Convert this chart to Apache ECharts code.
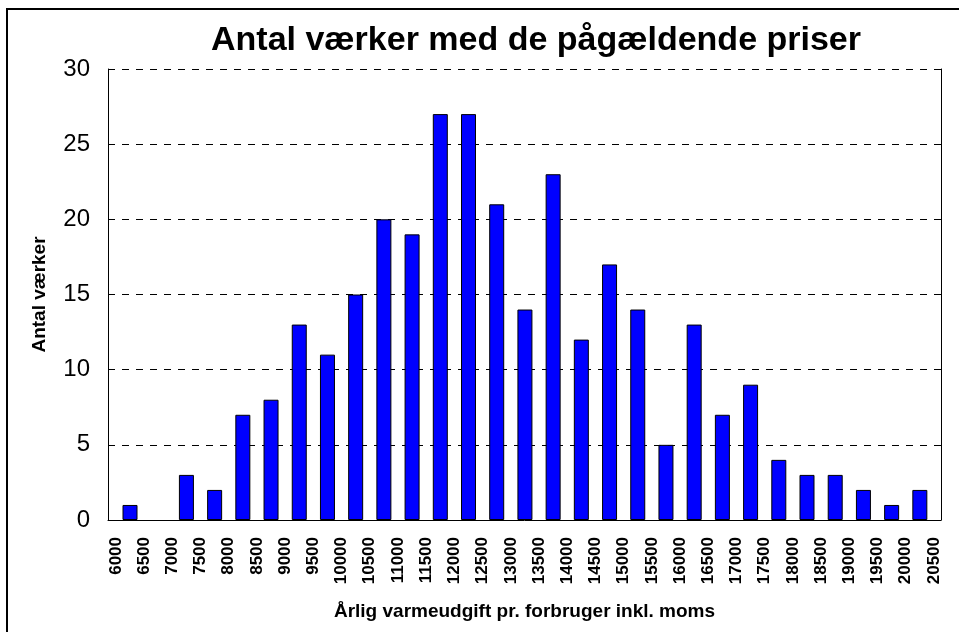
<!DOCTYPE html>
<html>
<head>
<meta charset="utf-8">
<script src="https://cdn.jsdelivr.net/npm/echarts@6/dist/echarts.min.js"></script>
<style>
  html, body { margin: 0; padding: 0; background: #fff; }
  #chart { width: 959px; height: 632px; }
</style>
</head>
<body>
<div id="chart"></div>
<script>
// bins (lower edge of each price band) and number of plants in each
const binStarts = [6000, 6500, 7000, 7500, 8000, 8500, 9000, 9500, 10000, 10500,
  11000, 11500, 12000, 12500, 13000, 13500, 14000, 14500, 15000, 15500,
  16000, 16500, 17000, 17500, 18000, 18500, 19000, 19500, 20000];
const counts = [1, 0, 3, 2, 7, 8, 13, 11, 15, 20,
  19, 27, 27, 21, 14, 23, 12, 17, 14, 5,
  13, 7, 9, 4, 3, 3, 2, 1, 2];
const tickLabels = [6000, 6500, 7000, 7500, 8000, 8500, 9000, 9500, 10000, 10500,
  11000, 11500, 12000, 12500, 13000, 13500, 14000, 14500, 15000, 15500,
  16000, 16500, 17000, 17500, 18000, 18500, 19000, 19500, 20000, 20500];
const binWidth = 500;

const font = "'Liberation Sans', Arial, sans-serif";

// bar sits in the middle of its band; empty bands draw nothing
const barData = binStarts
  .map((b, i) => [b + binWidth / 2, counts[i]])
  .filter((d) => d[1] > 0);

const chart = echarts.init(document.getElementById("chart"));
const option = {
  animation: false,
  backgroundColor: "#fff",
  title: {
    text: "Antal værker med de pågældende priser",
    left: 531,
    top: 19,
    textAlign: "center",
    textStyle: { fontFamily: font, fontSize: 34, fontWeight: "bold", color: "#000" },
  },
  grid: { left: 108, right: 18, top: 69, bottom: 112 },
  xAxis: {
    type: "value",
    min: 5860,
    max: 20625,
    name: "Årlig varmeudgift pr. forbruger inkl. moms",
    nameLocation: "middle",
    nameGap: 82,
    nameTextStyle: { fontFamily: font, fontSize: 19, fontWeight: "bold", color: "#000" },
    axisLine: { show: true, lineStyle: { color: "#000", width: 1 } },
    axisTick: { show: false },
    splitLine: { show: false },
    axisLabel: {
      customValues: tickLabels,
      formatter: (v) => String(v),
      rotate: 90,
      margin: 17,
      fontFamily: font,
      fontSize: 17,
      fontWeight: "bold",
      color: "#000",
    },
  },
  yAxis: [
    {
      type: "value",
      min: 0,
      max: 30,
      interval: 5,
      name: "Antal værker",
      nameLocation: "middle",
      nameGap: 59,
      nameTextStyle: { fontFamily: font, fontSize: 19, fontWeight: "bold", color: "#000" },
      axisLine: { show: true, lineStyle: { color: "#000", width: 1 } },
      axisTick: { show: false },
      axisLabel: { fontFamily: font, fontSize: 24, color: "#000", margin: 18 },
      splitLine: { show: true, lineStyle: { color: "#000", type: [7, 7], width: 1 } },
    },
    {
      type: "value",
      min: 0,
      max: 30,
      position: "right",
      axisLine: { show: true, lineStyle: { color: "#000", width: 1 } },
      axisTick: { show: false },
      axisLabel: { show: false },
      splitLine: { show: false },
    },
  ],
  series: [
    {
      type: "bar",
      data: barData,
      barWidth: 15,
      itemStyle: { color: "#0000ff", borderColor: "#000", borderWidth: 1 },
    },
  ],
  graphic: [
    {
      type: "rect",
      shape: { x: 7, y: 9, width: 1000, height: 700 },
      style: { fill: "none", stroke: "#000", lineWidth: 2 },
      silent: true,
    },
  ],
};
chart.setOption(option);
</script>
</body>
</html>
